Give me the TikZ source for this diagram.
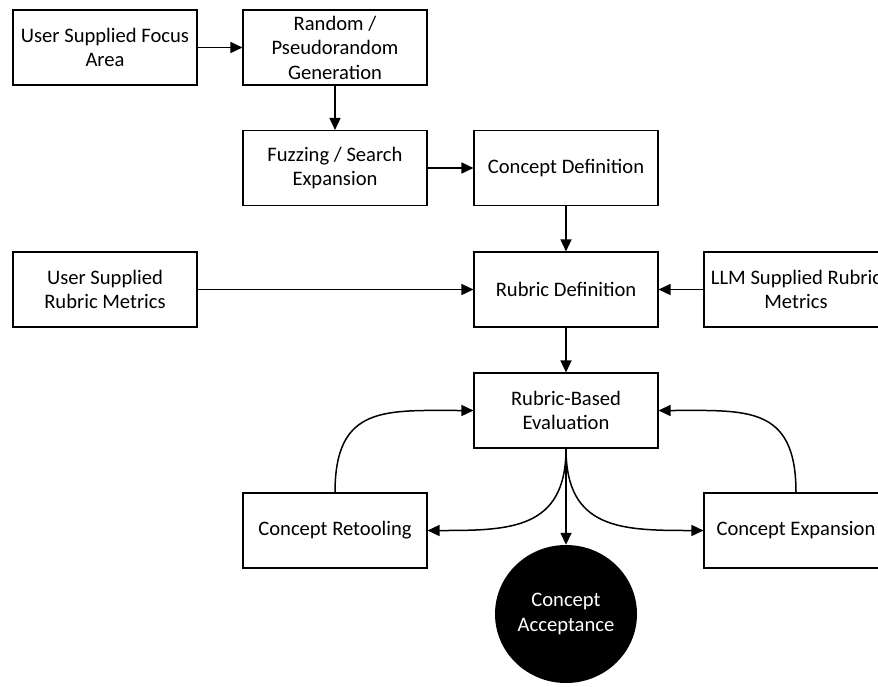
\documentclass[tikz,border=0pt]{standalone}
\usepackage{fontspec}
\setmainfont{Carlito}
\usetikzlibrary{shapes.geometric,arrows.meta}

\begin{document}
\begin{tikzpicture}[x=1pt,y=-1pt,
		font=\fontsize{20.6}{24.5}\selectfont,
		stage/.style={draw,line width=1.1pt,minimum width=184pt,minimum height=75pt,align=center,inner sep=2pt},
		goal/.style={ellipse,fill=black,text=white,minimum width=142pt,minimum height=138pt,align=center,inner sep=0pt},
		link/.style={line width=1.5pt,-{Triangle[length=12pt,width=11pt]}}]
	\useasboundingbox (0,0) rectangle (878,686);
	% generation of the concepts
	\node[stage] (focus) at (105,47.5) {User Supplied Focus\\Area};
	\node[stage] (random) at (335,47.5) {Random /\\Pseudorandom\\Generation};
	\node[stage] (fuzz) at (335,168) {Fuzzing / Search\\Expansion};
	\node[stage] (concept) at (566,168) {Concept Definition};
	% rubric
	\node[stage] (userrubric) at (105,289.5) {User Supplied\\Rubric Metrics};
	\node[stage] (rubric) at (566,289.5) {Rubric Definition};
	\node[stage] (llmrubric) at (796,289.5) {LLM Supplied Rubric\\Metrics};
	% evaluation loop
	\node[stage] (eval) at (566,410.5) {Rubric-Based\\Evaluation};
	\node[stage] (retool) at (335,530.5) {Concept Retooling};
	\node[stage] (expand) at (796,530.5) {Concept Expansion};
	\node[goal] (accept) at (566,614) {Concept\\Acceptance};

	\draw[link] (focus) -- (random);
	\draw[link] (random) -- (fuzz);
	\draw[link] (fuzz) -- (concept);
	\draw[link] (concept) -- (rubric);
	\draw[link] (userrubric) -- (rubric);
	\draw[link] (llmrubric) -- (rubric);
	\draw[link] (rubric) -- (eval);
	\draw[link] (eval) -- (accept);
	\draw[link] (eval.south) to[out=-90,in=0,looseness=1.3] (retool.east);
	\draw[link] (eval.south) to[out=-90,in=180,looseness=1.3] (expand.west);
	\draw[link] (retool.north) to[out=90,in=180,looseness=1.4] (eval.west);
	\draw[link] (expand.north) to[out=90,in=0,looseness=1.4] (eval.east);
\end{tikzpicture}
\end{document}
